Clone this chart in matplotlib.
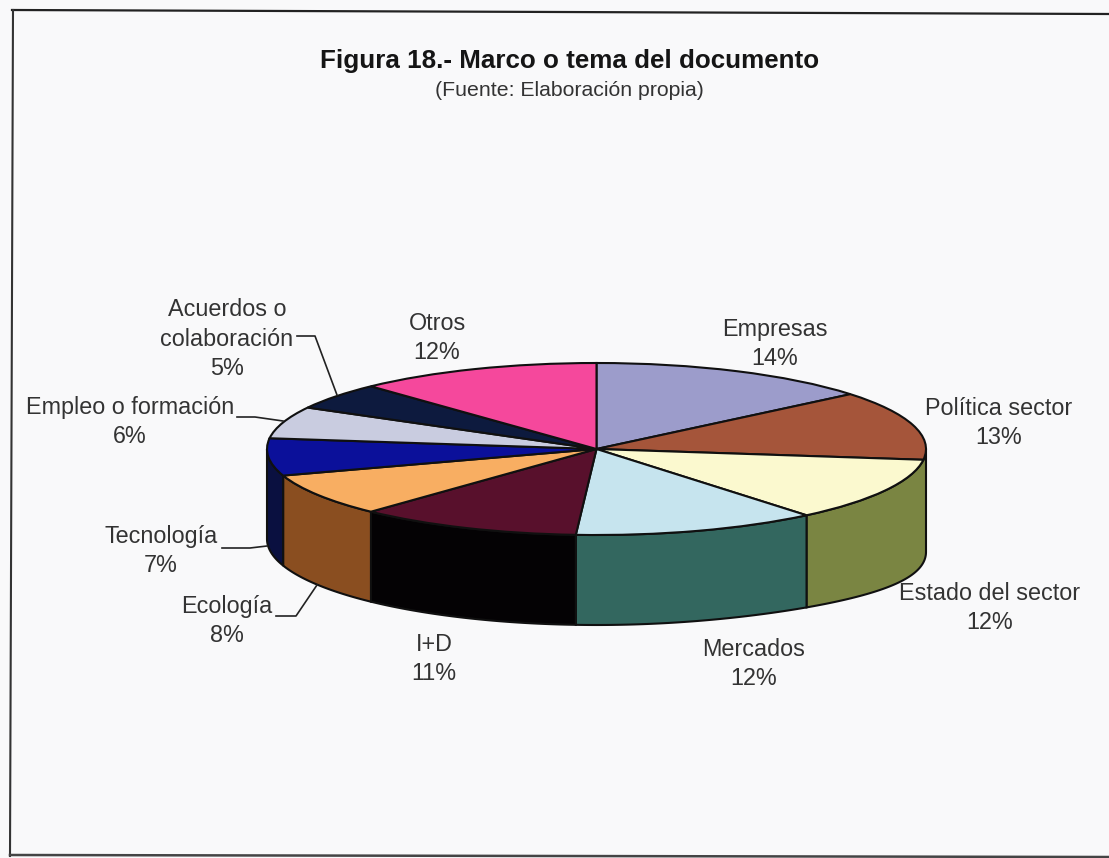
#!python3

"""
Figura 18 - 3D looking pie, walls drawn by hand under a squashed ax.pie
"""

import numpy as np
import matplotlib
matplotlib.use("Agg")
import matplotlib.pyplot as plt

plt.rcParams['font.family'] = ['Liberation Sans', 'DejaVu Sans']

TITLE = "Figura 18.- Marco o tema del documento"
SUBTITLE = "(Fuente: Elaboración propia)"

categories = ['Empresas', 'Política sector', 'Estado del sector', 'Mercados', 'I+D',
	'Ecología', 'Tecnología', 'Empleo o formación', 'Acuerdos o\ncolaboración', 'Otros']
values = [14, 13, 12, 12, 11, 8, 7, 6, 5, 12]

topColors = ['#9c9ccb', '#a5553a', '#fbf9cf', '#c6e4ee', '#58102c',
	'#f8ae62', '#0b109a', '#c9cce0', '#0d1a3e', '#f5489c']
wallColors = ['#6c6c90', '#7a3f28', '#7a8542', '#33675f', '#040204',
	'#8a4e20', '#0a1040', '#8a8ca0', '#0a1020', '#a83070']

W, H = 1109, 858
CX, CY = 596.5, 449
RX, RY = 329.5, 86
DEPTH = 90
SKEW = 13	# the right hand wall looks taller in the original

# label centre and leader line, in picture pixels
labelPos = [(775, 344), (999, 423), (990, 608), (754, 664), (434, 659),
	(227, 621), (161, 551), (130, 422), (227, 339), (437, 338)]
leaders = {
	'Acuerdos o\ncolaboración': [(297, 336), (315, 336), (337, 395)],
	'Empleo o formación': [(237, 417), (255, 417), (283, 421)],
	'Tecnología': [(222, 548), (250, 548), (267, 546)],
	'Ecología': [(276, 616), (296, 616), (317, 585)],
}

fig = plt.figure(figsize=(W/100, H/100), dpi=100, facecolor='#f9f9fa')

# pie axes, one unit is the radius of the ellipse
ax = fig.add_axes([0, 0, 1, 1])
ax.pie(values, colors=topColors, startangle=90, counterclock=False, radius=1,
	wedgeprops=dict(edgecolor='#101010', linewidth=1.5, zorder=3))
ax.set_aspect('auto')
ax.set_xlim(-CX/RX, (W-CX)/RX)
ax.set_ylim((CY-H)/RY, CY/RY)
ax.patch.set_visible(False)

# walls of the slices that face the viewer
depth = DEPTH/RY
edges = np.cumsum([0]+values)/sum(values)*360
for i in range(len(values)):
	a0, a1 = max(edges[i], 90), min(edges[i+1], 270)
	if a0 >= a1 or a1-a0 < 10:
		continue	# the sliver of Politica sector does not show in the original
	if i == 2:
		a0 = 90
	t = np.radians(np.linspace(a0, a1, 60))
	x, y = np.sin(t), np.cos(t)
	bottom = y-depth-SKEW/RY*np.maximum(x, 0)**4
	ax.fill(np.r_[x, x[::-1]], np.r_[y, bottom[::-1]], facecolor=wallColors[i],
		edgecolor='#101010', linewidth=1.5, zorder=2)

# page furniture in pixel coordinates
over = fig.add_axes([0, 0, 1, 1])
over.set_xlim(0, W)
over.set_ylim(H, 0)
over.axis('off')
over.plot([12, 1109], [10, 14], color='#222222', lw=1.6)
over.plot([13, 10], [10, 856], color='#333333', lw=1.5)
over.plot([10, 1109], [855, 857], color='#444444', lw=1.8)

over.text(570, 61, TITLE, ha='center', va='center', fontsize=18.7, fontweight='bold', color='#151515')
over.text(569, 91, SUBTITLE, ha='center', va='center', fontsize=15.3, color='#333333')

for name, val, (lx, ly) in zip(categories, values, labelPos):
	over.text(lx, ly, "{}\n{}%".format(name, val), ha='center', va='center', fontsize=16.8,
		color='#333333', linespacing=1.35)
for name in leaders:
	xs, ys = zip(*leaders[name])
	over.plot(xs, ys, color='#222222', lw=1.2)

fig.savefig('out.png', dpi=100, facecolor=fig.get_facecolor())
